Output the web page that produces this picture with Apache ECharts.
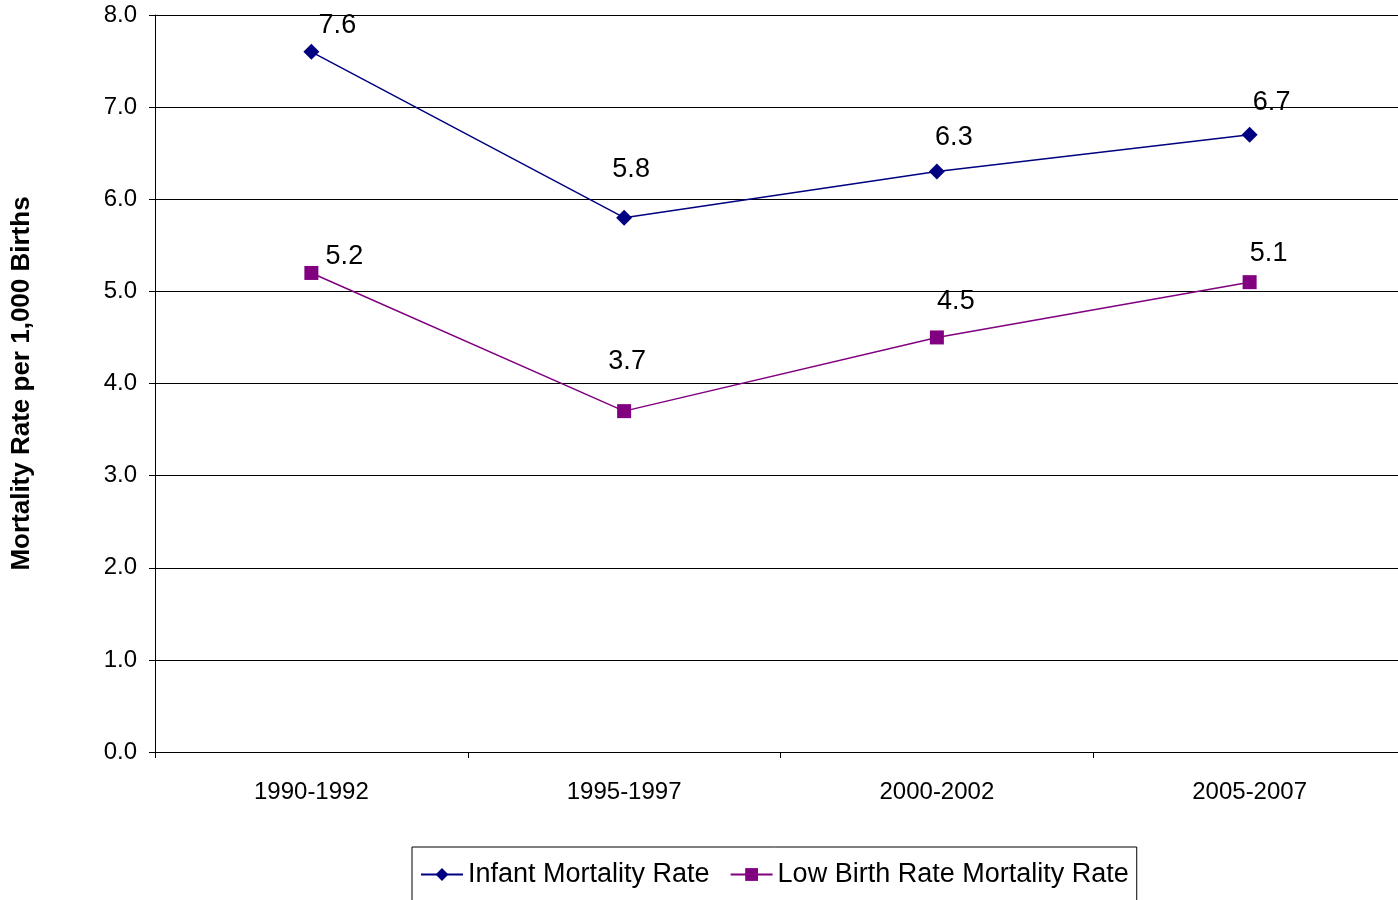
<!DOCTYPE html>
<html><head><meta charset="utf-8">
<script src="https://cdn.jsdelivr.net/npm/echarts@6/dist/echarts.min.js"></script>
<style>html,body{margin:0;padding:0;background:#fff;}#c{width:1398px;height:900px;}</style>
</head><body><div id="c"></div>
<script>
const categories = ['1990-1992','1995-1997','2000-2002','2005-2007'];
const infantMortality = [7.6, 5.8, 6.3, 6.7];
const lowBirthMortality = [5.2, 3.7, 4.5, 5.1];
const yTicks = [0,1,2,3,4,5,6,7,8];

const infantLabelOffsets = [[26,0],[7,-22],[17,-8],[22,-6]];
const lowLabelOffsets = [[33,9],[3,-24],[19,-10],[19,-3]];

const font = 'Liberation Sans, Arial, sans-serif';
function mk(vals, offs){
  return vals.map((v,i)=>({value:v, label:{offset:offs[i]}}));
}
const chart = echarts.init(document.getElementById('c'));
chart.setOption({
  animation:false,
  grid:{left:155, width:1251, top:15, height:737, containLabel:false, outerBoundsMode:'none'},
  xAxis:{type:'category', data:categories, boundaryGap:true,
    axisLine:{lineStyle:{color:'#000',width:1}},
    axisTick:{show:true, length:6, lineStyle:{color:'#000'}},
    axisLabel:{color:'#000', fontFamily:font, fontSize:24, margin:28}},
  yAxis:{type:'value', min:0, max:8, interval:1,
    name:'Mortality Rate per 1,000 Births', nameLocation:'middle', nameGap:120, nameRotate:90,
    nameTextStyle:{fontFamily:font, fontSize:26, fontWeight:'bold', color:'#000'},
    axisLine:{show:true, lineStyle:{color:'#000'}},
    axisTick:{show:true, length:6, lineStyle:{color:'#000'}},
    splitLine:{lineStyle:{color:'#000', width:1}},
    axisLabel:{color:'#000', fontFamily:font, fontSize:24, margin:18, formatter:v=>v.toFixed(1)}},
  legend:{bottom:-6, left:412, itemWidth:42, itemHeight:16, itemGap:20,
    borderColor:'#000', borderWidth:1, padding:[14,8,18,8],
    textStyle:{fontFamily:font, fontSize:27, color:'#000'},
    data:['Infant Mortality Rate','Low Birth Rate Mortality Rate']},
  series:[
    {name:'Infant Mortality Rate', type:'line', data:mk(infantMortality, infantLabelOffsets),
     symbol:'diamond', symbolSize:16, color:'#000080',
     lineStyle:{color:'#000080', width:1.5}, itemStyle:{color:'#000080'},
     label:{show:true, position:'top', fontFamily:font, fontSize:27, color:'#000', formatter:p=>p.value.toFixed(1)}},
    {name:'Low Birth Rate Mortality Rate', type:'line', data:mk(lowBirthMortality, lowLabelOffsets),
     symbol:'rect', symbolSize:14, color:'#800080',
     lineStyle:{color:'#800080', width:1.5}, itemStyle:{color:'#800080'},
     label:{show:true, position:'top', fontFamily:font, fontSize:27, color:'#000', formatter:p=>p.value.toFixed(1)}}
  ]
});
</script></body></html>
